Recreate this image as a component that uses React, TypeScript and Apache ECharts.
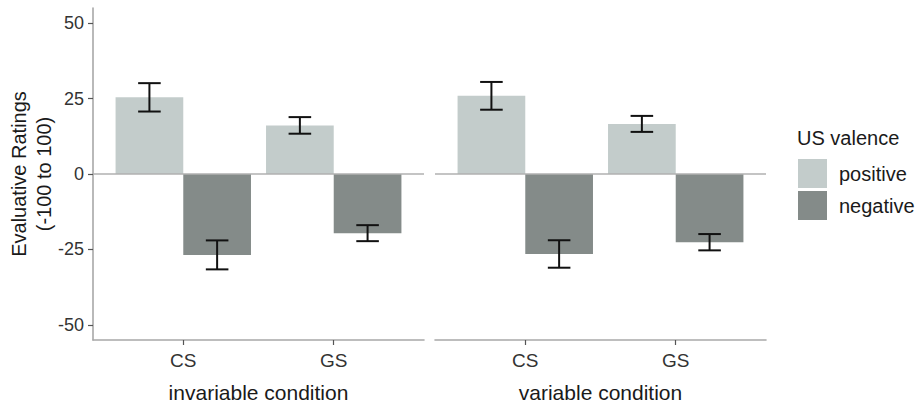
import React, { useEffect, useRef } from "react";
import * as echarts from "echarts";

const conditions = ["invariable condition", "variable condition"];
const stimuli = ["CS", "GS"];
const valences = ["positive", "negative"];
// means per condition: [CS, GS]
const positiveMeans = [
  [25.4, 16.1],
  [25.9, 16.6],
];
const positiveSE = [
  [4.7, 2.75],
  [4.6, 2.65],
];
const negativeMeans = [
  [-26.8, -19.6],
  [-26.5, -22.6],
];
const negativeSE = [
  [4.8, 2.65],
  [4.55, 2.7],
];
const yTicks = [-50, -25, 0, 25, 50];

const FONT = "'Liberation Sans', Arial, sans-serif";
const colors = { positive: "#c3cccb", negative: "#848b89" };
const DODGE = 0.45;
const CAP = 0.15;

export default function App() {
  const ref = useRef<HTMLDivElement>(null);
  useEffect(() => {
    if (!ref.current) return;
    const chart = echarts.init(ref.current, null, { renderer: "svg" });

    const grids = conditions.map((_, i) => ({
      left: i === 0 ? 93 : 435,
      top: 8,
      width: 331,
      height: 332,
      containLabel: false,
      outerBoundsMode: "none",
    }));

    const xAxes = conditions.map((c, i) => ({
      type: "value",
      gridIndex: i,
      min: 0.4,
      max: 2.6,
      name: c,
      nameLocation: "middle",
      nameGap: 42,
      nameTextStyle: { fontSize: 21, color: "#1a1a1a", fontFamily: FONT },
      axisLine: { show: true, onZero: false, lineStyle: { color: "#a8a8a8", width: 1.6 } },
      axisTick: { show: true, length: 5, customValues: [1, 2], lineStyle: { color: "#555", width: 1.2 } },
      axisLabel: {
        customValues: [1, 2],
        formatter: (v: number) => stimuli[Math.round(v) - 1] ?? "",
        fontSize: 19,
        color: "#333",
        fontFamily: FONT,
        margin: 11,
      },
      splitLine: { show: false },
    }));

    const yAxes = conditions.map((_, i) => ({
      type: "value",
      gridIndex: i,
      min: -55,
      max: 55,
      axisLine: { show: i === 0, onZero: false, lineStyle: { color: "#a8a8a8", width: 1.6 } },
      axisTick: { show: i === 0, length: 5, customValues: yTicks, lineStyle: { color: "#555", width: 1.2 } },
      axisLabel: {
        show: i === 0,
        customValues: yTicks,
        fontSize: 18,
        color: "#333",
        fontFamily: FONT,
        margin: 9,
      },
      splitLine: { show: false },
    }));

    const series: any[] = [];
    conditions.forEach((_, gi) => {
      valences.forEach((val, vi) => {
        const means = vi === 0 ? positiveMeans[gi] : negativeMeans[gi];
        const ses = vi === 0 ? positiveSE[gi] : negativeSE[gi];
        const dodge = vi === 0 ? -1 : 1;
        const data = stimuli.map((_, si) => [si + 1, means[si], ses[si], dodge]);
        series.push({
          type: "custom",
          name: val,
          xAxisIndex: gi,
          yAxisIndex: gi,
          z: 1,
          itemStyle: { color: (colors as any)[val] },
          encode: { x: 0, y: 1 },
          data,
          renderItem: (params: any, api: any) => {
            const x = api.value(0) as number;
            const v = api.value(1) as number;
            const d = api.value(3) as number;
            const cx = x + (d * DODGE) / 2;
            const p1 = api.coord([cx - DODGE / 2, Math.max(v, 0)]);
            const p2 = api.coord([cx + DODGE / 2, Math.min(v, 0)]);
            return {
              type: "rect",
              shape: { x: p1[0], y: p1[1], width: p2[0] - p1[0], height: p2[1] - p1[1] },
              style: { fill: (colors as any)[val] },
            };
          },
        });
      });
      series.push({
        type: "line",
        name: "zero",
        xAxisIndex: gi,
        yAxisIndex: gi,
        z: 2,
        symbol: "none",
        silent: true,
        lineStyle: { color: "#b0b0b0", width: 1.6 },
        data: [
          [0.4, 0],
          [2.6, 0],
        ],
      });
      valences.forEach((val, vi) => {
        const means = vi === 0 ? positiveMeans[gi] : negativeMeans[gi];
        const ses = vi === 0 ? positiveSE[gi] : negativeSE[gi];
        const dodge = vi === 0 ? -1 : 1;
        const data = stimuli.map((_, si) => [si + 1, means[si], ses[si], dodge]);
        series.push({
          type: "custom",
          name: val + " error",
          xAxisIndex: gi,
          yAxisIndex: gi,
          z: 3,
          encode: { x: 0, y: 1 },
          data,
          renderItem: (params: any, api: any) => {
            const x = api.value(0) as number;
            const v = api.value(1) as number;
            const se = api.value(2) as number;
            const d = api.value(3) as number;
            const cx = x + (d * DODGE) / 2;
            const top = api.coord([cx, v + se]);
            const bot = api.coord([cx, v - se]);
            const l = api.coord([cx - CAP / 2, v])[0];
            const r = api.coord([cx + CAP / 2, v])[0];
            const st = { stroke: "#111", lineWidth: 2 };
            return {
              type: "group",
              children: [
                { type: "line", shape: { x1: top[0], y1: top[1], x2: bot[0], y2: bot[1] }, style: st },
                { type: "line", shape: { x1: l, y1: top[1], x2: r, y2: top[1] }, style: st },
                { type: "line", shape: { x1: l, y1: bot[1], x2: r, y2: bot[1] }, style: st },
              ],
            };
          },
        });
      });
    });

    chart.setOption({
      animation: false,
      backgroundColor: "#ffffff",
      textStyle: { fontFamily: FONT },
      title: {
        text: "US valence",
        left: 797,
        top: 128,
        padding: 0,
        textStyle: { fontSize: 20, fontWeight: "normal", color: "#1a1a1a", fontFamily: FONT },
      },
      legend: {
        data: valences,
        orient: "vertical",
        left: 798,
        top: 159,
        padding: 0,
        itemWidth: 29,
        itemHeight: 29,
        itemGap: 3,
        icon: "rect",
        selectedMode: false,
        textStyle: { fontSize: 20, color: "#1a1a1a", fontFamily: FONT, padding: [0, 0, 0, 7] },
      },
      graphic: [
        {
          type: "text",
          x: 31,
          y: 174,
          rotation: Math.PI / 2,
          style: {
            text: "Evaluative Ratings\n(-100 to 100)",
            fontSize: 20,
            lineHeight: 25,
            fill: "#1a1a1a",
            fontFamily: FONT,
            align: "center",
            verticalAlign: "middle",
          },
        },
      ],
      grid: grids,
      xAxis: xAxes,
      yAxis: yAxes,
      series,
    });

    return () => chart.dispose();
  }, []);

  return (
    <div
      ref={ref}
      style={{ position: "fixed", left: 0, top: 0, width: 918, height: 403, background: "#fff" }}
    />
  );
}
